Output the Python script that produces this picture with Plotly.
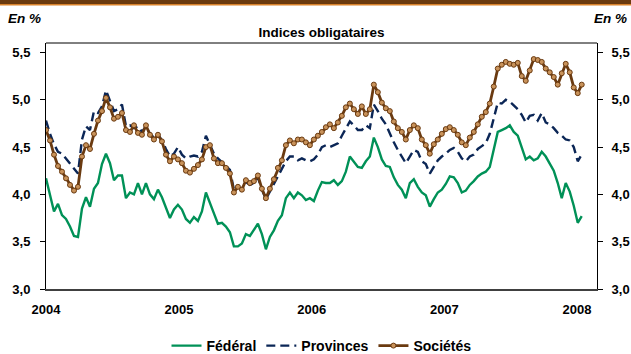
import pandas as pd
import plotly.graph_objects as go

# Sampling grid: one observation every 11 days from 2004-01-01
dates = pd.date_range("2004-01-01", periods=135, freq="11D")

federal = [
    4.17, 4.01, 3.82, 3.90, 3.78, 3.74, 3.66, 3.56, 3.55, 3.85,
    3.97, 3.87, 4.06, 4.12, 4.32, 4.43, 4.33, 4.15, 4.20, 4.20,
    3.96, 4.02, 4.00, 4.12, 4.00, 4.12, 4.00, 3.95, 4.05, 3.97,
    3.86, 3.75, 3.84, 3.89, 3.84, 3.74, 3.70, 3.76, 3.72, 3.82,
    4.02, 3.92, 3.80, 3.69, 3.70, 3.66, 3.60, 3.45, 3.45, 3.48,
    3.58, 3.56, 3.63, 3.69, 3.58, 3.42, 3.55, 3.62, 3.72, 3.78,
    3.96, 4.02, 3.96, 4.02, 3.99, 3.94, 3.96, 3.93, 4.04, 4.13,
    4.12, 4.12, 4.15, 4.10, 4.14, 4.24, 4.40, 4.35, 4.29, 4.28,
    4.35, 4.40, 4.60, 4.50, 4.37, 4.30, 4.29, 4.18, 4.10, 4.05,
    3.96, 4.12, 4.16, 4.08, 4.02, 3.99, 3.87, 3.95, 4.02, 4.05,
    4.11, 4.19, 4.18, 4.12, 4.02, 4.04, 4.10, 4.14, 4.19, 4.22,
    4.24, 4.29, 4.48, 4.66, 4.68, 4.70, 4.73, 4.66, 4.62, 4.50,
    4.37, 4.40, 4.36, 4.38, 4.45, 4.40, 4.33, 4.25, 4.12, 3.96,
    4.12, 4.03, 3.88, 3.70, 3.77,
]

provinces = [
    4.78, 4.64, 4.53, 4.45, 4.43, 4.38, 4.33, 4.28, 4.22, 4.58,
    4.72, 4.68, 4.88, 4.86, 4.93, 5.10, 4.98, 4.88, 4.90, 4.95,
    4.72, 4.73, 4.70, 4.72, 4.66, 4.72, 4.64, 4.60, 4.63, 4.57,
    4.48, 4.40, 4.43, 4.50, 4.42, 4.38, 4.40, 4.41, 4.40, 4.45,
    4.62, 4.52, 4.43, 4.38, 4.34, 4.30, 4.26, 4.05, 4.08, 4.05,
    4.13, 4.10, 4.12, 4.18, 4.05, 3.95, 4.03, 4.12, 4.20, 4.28,
    4.35, 4.40, 4.40, 4.36, 4.38, 4.36, 4.35, 4.37, 4.42, 4.50,
    4.52, 4.50, 4.52, 4.54, 4.62, 4.70, 4.77, 4.73, 4.68, 4.68,
    4.73, 4.70, 4.95, 4.88, 4.80, 4.74, 4.64, 4.55, 4.47, 4.40,
    4.33, 4.40, 4.47, 4.45, 4.35, 4.32, 4.22, 4.29, 4.36, 4.40,
    4.43, 4.47, 4.49, 4.45, 4.38, 4.35, 4.40, 4.42, 4.48, 4.51,
    4.54, 4.64, 4.82, 4.97, 4.96, 5.00, 4.98, 4.94, 4.90, 4.84,
    4.76, 4.83, 4.84, 4.78, 4.86, 4.76, 4.74, 4.70, 4.65, 4.62,
    4.58, 4.57, 4.50, 4.35, 4.42,
]

societes = [
    4.68, 4.57, 4.42, 4.30, 4.24, 4.17, 4.10, 4.04, 4.08, 4.40,
    4.52, 4.48, 4.64, 4.78, 4.88, 5.02, 4.92, 4.80, 4.82, 4.86,
    4.68, 4.66, 4.73, 4.65, 4.63, 4.73, 4.63, 4.58, 4.63, 4.56,
    4.42, 4.35, 4.40, 4.37, 4.33, 4.25, 4.23, 4.27, 4.31, 4.37,
    4.50, 4.52, 4.38, 4.33, 4.33, 4.28, 4.22, 4.02, 4.08, 4.05,
    4.15, 4.12, 4.14, 4.20, 4.06, 3.96, 4.06, 4.16, 4.28, 4.36,
    4.52, 4.57, 4.54, 4.58, 4.58, 4.55, 4.52, 4.58, 4.62, 4.66,
    4.71, 4.74, 4.70, 4.76, 4.83, 4.92, 4.96, 4.90, 4.85, 4.93,
    4.85, 4.90, 5.16, 5.08, 4.97, 4.91, 4.88, 4.77, 4.70, 4.66,
    4.58, 4.68, 4.73, 4.70, 4.58, 4.52, 4.43, 4.53, 4.58, 4.64,
    4.69, 4.71, 4.68, 4.63, 4.55, 4.52, 4.60, 4.66, 4.74, 4.82,
    4.87, 4.96, 5.14, 5.33, 5.37, 5.40, 5.38, 5.37, 5.39, 5.25,
    5.20, 5.31, 5.43, 5.42, 5.40, 5.33, 5.29, 5.24, 5.16, 5.28,
    5.38, 5.29, 5.13, 5.07, 5.16,
]

year_ticks = ["2004-01-01", "2005-01-01", "2006-01-01", "2007-01-01", "2008-01-01"]
year_labels = ["2004", "2005", "2006", "2007", "2008"]
y_ticks = [3.0, 3.5, 4.0, 4.5, 5.0, 5.5]

FONT = "Liberation Sans, Arial, sans-serif"
GREEN = "#009157"
NAVY = "#0b2656"
BROWN = "#6a3a10"
TAN = "#c8925a"

fig = go.Figure()
fig.add_trace(go.Scatter(
    x=dates, y=federal, name="<b>Fédéral</b>", mode="lines",
    line=dict(color=GREEN, width=2.4),
))
fig.add_trace(go.Scatter(
    x=dates, y=provinces, name="<b>Provinces</b>", mode="lines",
    line=dict(color=NAVY, width=2.4, dash="9px,5px"),
))
fig.add_trace(go.Scatter(
    x=dates, y=societes, name="<b>Sociétés</b>", mode="lines+markers", yaxis="y2",
    line=dict(color=BROWN, width=2.8),
    marker=dict(size=5, color=TAN, line=dict(color=BROWN, width=1)),
))

axis_font = dict(family=FONT, size=13, color="#000000")
y_text = [f"<b>{v:.1f}</b>".replace(".", ",") for v in y_ticks]

fig.update_layout(
    width=631, height=354,
    margin=dict(l=46, r=34, t=43, b=65, autoexpand=False),
    paper_bgcolor="white", plot_bgcolor="white",
    showlegend=True,
    font=dict(family=FONT, size=13, color="#000000"),
    title=dict(
        text="<b>Indices obligataires</b>",
        font=dict(family=FONT, size=13.5, color="#000000"),
        x=0.5, xref="paper", xanchor="center",
        y=1 - 32 / 354, yref="container", yanchor="middle",
    ),
    xaxis=dict(
        type="date",
        range=["2004-01-01", "2008-02-25"],
        tickvals=year_ticks, ticktext=[f"<b>{t}</b>" for t in year_labels],
        ticks="", showgrid=False, zeroline=False,
        showline=True, linecolor="#404040", linewidth=2,
        tickfont=axis_font, ticklabelstandoff=7,
    ),
    yaxis=dict(
        range=[3.0, 5.6], tickvals=y_ticks, ticktext=y_text,
        ticks="outside", ticklen=5, tickcolor="#000000", tickwidth=1,
        showgrid=False, zeroline=False,
        showline=True, linecolor="#000000", linewidth=1,
        tickfont=axis_font, ticklabelstandoff=7,
    ),
    yaxis2=dict(
        range=[3.0, 5.6], tickvals=y_ticks, ticktext=y_text,
        overlaying="y", side="right",
        ticks="outside", ticklen=5, tickcolor="#000000", tickwidth=1,
        showgrid=False, zeroline=False,
        showline=True, linecolor="#000000", linewidth=1,
        tickfont=axis_font, ticklabelstandoff=6,
    ),
    legend=dict(
        orientation="h", x=0.5, xanchor="center",
        y=(289 - 346) / 246, yanchor="middle", traceorder="normal",
        font=dict(family=FONT, size=14, color="#000000"),
        bgcolor="rgba(0,0,0,0)", tracegroupgap=0,
    ),
    shapes=[
        # top frame edge
        dict(type="line", xref="paper", yref="paper", x0=0, x1=1, y0=1, y1=1,
             line=dict(color="#000000", width=1)),
        # page header band
        dict(type="rect", xref="paper", yref="paper",
             x0=-46 / 551, x1=1 + 34 / 551, y0=1 + 39 / 246, y1=1 + 43 / 246,
             fillcolor="#6b3a0e", line=dict(width=0)),
        dict(type="rect", xref="paper", yref="paper",
             x0=-46 / 551, x1=1 + 34 / 551, y0=1 + 37.5 / 246, y1=1 + 39 / 246,
             fillcolor="#d9822b", line=dict(width=0)),
    ],
    annotations=[
        dict(text="<b><i>En %</i></b>", xref="paper", yref="paper",
             x=-40 / 551, y=(289 - 18) / 246, xanchor="left", yanchor="middle",
             showarrow=False, font=dict(family=FONT, size=13.5, color="#000000")),
        dict(text="<b><i>En %</i></b>", xref="paper", yref="paper",
             x=(629 - 46) / 551, y=(289 - 18) / 246, xanchor="right", yanchor="middle",
             showarrow=False, font=dict(family=FONT, size=13.5, color="#000000")),
    ],
)

fig.write_html("out.html")
